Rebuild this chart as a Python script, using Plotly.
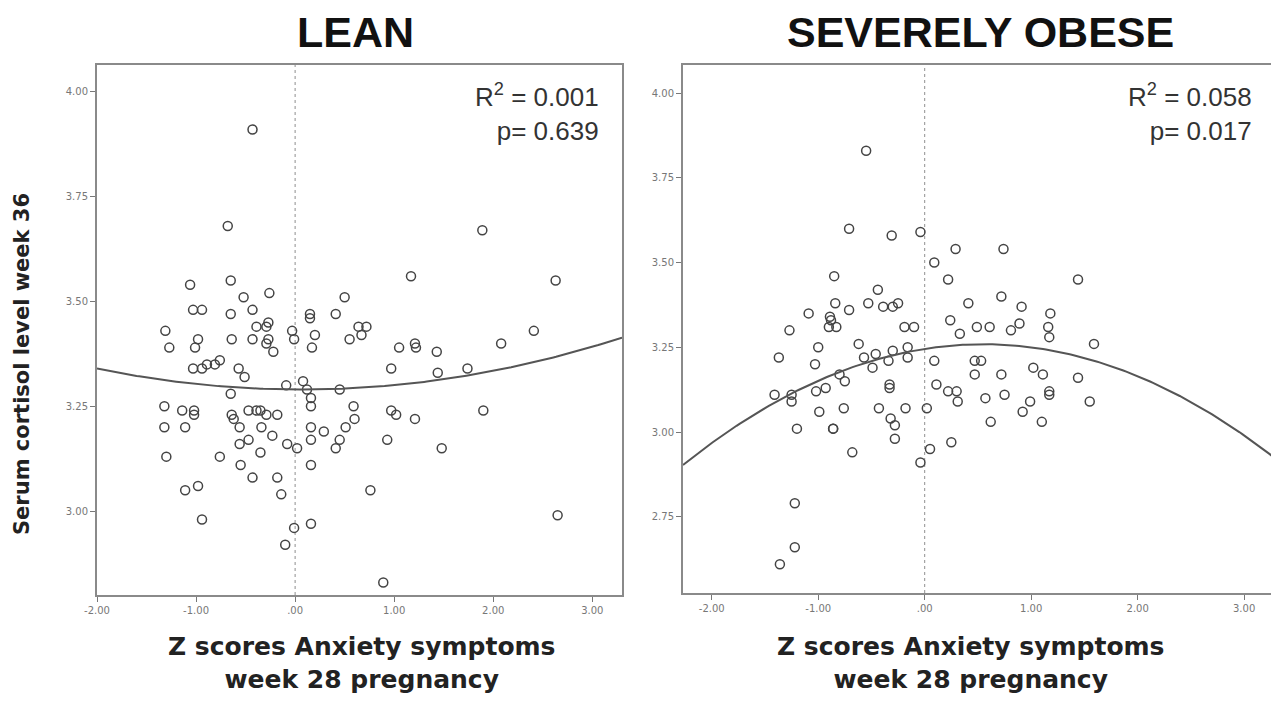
import numpy as np
import plotly.graph_objects as go

# ---------------- data ----------------
lean_x = [-0.43, -0.68, 1.89, -0.65, -1.06, 1.17, 2.63, -0.52, -0.26, 0.50,
          -1.03, -0.94, -0.65, -0.43, 0.15, 0.15, 0.41, -0.27, -0.39, -0.29,
          0.64, 0.72, 2.41, -1.31, -0.98, -0.03, -0.01, 0.20, 0.67, 0.55,
          -0.64, -0.43, -0.27, -1.27, -1.01, -0.29, -0.22, 0.17, 1.05, 1.21,
          1.22, 1.43, 2.08, -1.03, -0.94, -0.89, -0.81, -0.76, -0.57, -0.51,
          0.97, 1.44, 1.74, -0.09, 0.08, 0.12, 0.45, -0.65, 0.16, -1.32,
          -1.14, -1.02, -1.02, -0.64, -0.62, -0.47, -0.39, -0.35, -0.29, -0.18,
          0.16, 0.59, 0.60, 0.97, 1.02, 1.21, 1.90, -1.32, -1.11, -0.56,
          -0.34, -0.23, 0.16, 0.16, 0.29, 0.51, 0.45, 0.41, 0.93, 1.48,
          -0.56, -0.47, -0.08, 0.02, -0.76, -0.35, -1.30, -0.55, 0.16, -0.43,
          -0.18, -1.11, -0.98, 0.76, -0.14, 2.65, -0.94, 0.16, -0.01, -0.10,
          0.89]
lean_y = [3.91, 3.68, 3.67, 3.55, 3.54, 3.56, 3.55, 3.51, 3.52, 3.51,
          3.48, 3.48, 3.47, 3.48, 3.47, 3.46, 3.47, 3.45, 3.44, 3.44,
          3.44, 3.44, 3.43, 3.43, 3.41, 3.43, 3.41, 3.42, 3.42, 3.41,
          3.41, 3.41, 3.41, 3.39, 3.39, 3.40, 3.38, 3.39, 3.39, 3.40,
          3.39, 3.38, 3.40, 3.34, 3.34, 3.35, 3.35, 3.36, 3.34, 3.32,
          3.34, 3.33, 3.34, 3.30, 3.31, 3.29, 3.29, 3.28, 3.27, 3.25,
          3.24, 3.24, 3.23, 3.23, 3.22, 3.24, 3.24, 3.24, 3.23, 3.23,
          3.25, 3.25, 3.22, 3.24, 3.23, 3.22, 3.24, 3.20, 3.20, 3.20,
          3.20, 3.18, 3.20, 3.17, 3.19, 3.20, 3.17, 3.15, 3.17, 3.15,
          3.16, 3.17, 3.16, 3.15, 3.13, 3.14, 3.13, 3.11, 3.11, 3.08,
          3.08, 3.05, 3.06, 3.05, 3.04, 2.99, 2.98, 2.97, 2.96, 2.92,
          2.83]

obese_x = [-0.55, -0.71, -0.31, -0.04, 0.29, 0.74, 0.09, 0.22, 1.44, -0.85,
           -0.44, -0.84, -0.53, -0.39, -0.30, -0.25, -0.71, -1.09, -0.89, -0.88,
           -0.90, -0.83, 0.41, 0.72, 0.91, 1.18, -1.27, -0.19, -0.10, 0.24,
           0.33, 0.49, 0.61, 0.81, 0.89, 1.16, 1.17, 1.59, -0.62, -1.00,
           -1.37, -0.57, -0.46, -0.30, -0.16, -0.16, -0.34, 0.09, -1.03, -0.49,
           0.47, 0.53, 0.47, 1.02, 1.11, 0.72, 1.44, -0.80, -0.75, -1.41,
           -1.25, -1.25, -1.02, -0.93, -0.33, -0.33, 0.11, 0.22, 0.30, 0.31,
           0.75, 0.57, 0.99, 0.92, 1.17, 1.17, 1.55, -0.99, -0.76, -0.43,
           -0.18, 0.02, -1.20, -0.86, -0.86, -0.32, -0.28, 0.62, 1.10, -0.28,
           -0.68, 0.05, 0.25, -0.04, -1.22, -1.22, -1.36]
obese_y = [3.83, 3.60, 3.58, 3.59, 3.54, 3.54, 3.50, 3.45, 3.45, 3.46,
           3.42, 3.38, 3.38, 3.37, 3.37, 3.38, 3.36, 3.35, 3.34, 3.33,
           3.31, 3.31, 3.38, 3.40, 3.37, 3.35, 3.30, 3.31, 3.31, 3.33,
           3.29, 3.31, 3.31, 3.30, 3.32, 3.31, 3.28, 3.26, 3.26, 3.25,
           3.22, 3.22, 3.23, 3.24, 3.25, 3.22, 3.21, 3.21, 3.20, 3.19,
           3.21, 3.21, 3.17, 3.19, 3.17, 3.17, 3.16, 3.17, 3.15, 3.11,
           3.11, 3.09, 3.12, 3.13, 3.14, 3.13, 3.14, 3.12, 3.12, 3.09,
           3.11, 3.10, 3.09, 3.06, 3.12, 3.11, 3.09, 3.06, 3.07, 3.07,
           3.07, 3.07, 3.01, 3.01, 3.01, 3.04, 3.02, 3.03, 3.03, 2.98,
           2.94, 2.95, 2.97, 2.91, 2.79, 2.66, 2.61]

# quadratic fit coefficients: [a, b, c] for a + b*x + c*x^2
lean_fit = [3.290, -0.0014, 0.0118]
obese_fit = [3.2454, 0.0493, -0.0448]

x_ticks = [-2, -1, 0, 1, 2, 3]
x_ticktext = ["-2.00", "-1.00", ".00", "1.00", "2.00", "3.00"]
lean_yticks = [3.00, 3.25, 3.50, 3.75, 4.00]
lean_yticktext = ["3.00", "3.25", "3.50", "3.75", "4.00"]
obese_yticks = [2.75, 3.00, 3.25, 3.50, 3.75, 4.00]
obese_yticktext = ["2.75", "3.00", "3.25", "3.50", "3.75", "4.00"]

lean_xrange = [-2.0, 3.30]
lean_yrange = [2.80, 4.064]
obese_xrange = [-2.27, 3.29]
obese_yrange = [2.525, 4.083]

# ---------------- figure ----------------
OFF = 8  # page body margin
W, H = 1279 - OFF, 702 - OFF
fig = go.Figure()

marker = dict(symbol="circle-open", size=9, color="#444444", line=dict(width=1.5, color="#444444"))

fig.add_trace(go.Scatter(x=lean_x, y=lean_y, mode="markers", marker=marker,
                         xaxis="x", yaxis="y", showlegend=False))
fig.add_trace(go.Scatter(x=obese_x, y=obese_y, mode="markers", marker=marker,
                         xaxis="x2", yaxis="y2", showlegend=False))

def curve(coef, rng):
    xs = np.linspace(rng[0], rng[1], 200)
    return xs, coef[0] + coef[1] * xs + coef[2] * xs ** 2

cx, cy = curve(lean_fit, lean_xrange)
fig.add_trace(go.Scatter(x=cx, y=cy, mode="lines", line=dict(color="#555555", width=2),
                         xaxis="x", yaxis="y", showlegend=False, hoverinfo="skip"))
cx2, cy2 = curve(obese_fit, obese_xrange)
fig.add_trace(go.Scatter(x=cx2, y=cy2, mode="lines", line=dict(color="#555555", width=2),
                         xaxis="x2", yaxis="y2", showlegend=False, hoverinfo="skip"))

tickfont = dict(family="DejaVu Sans", size=10, color="#777777")
axis_common = dict(showgrid=False, zeroline=False, showline=True, linecolor="#8a8a8a",
                   linewidth=2, mirror=True, ticks="outside", ticklen=5, tickwidth=1,
                   tickcolor="#777777", tickfont=tickfont, automargin=False)

def px_x(p):
    return (p - OFF) / W

def px_y(p):
    return 1 - (p - OFF) / H

fig.update_layout(
    width=W, height=H,
    margin=dict(l=0, r=0, t=0, b=0),
    paper_bgcolor="white", plot_bgcolor="white",
    xaxis=dict(domain=[px_x(97), px_x(622)], range=lean_xrange, tickvals=x_ticks,
               ticktext=x_ticktext, anchor="y", **axis_common),
    yaxis=dict(domain=[px_y(595), px_y(65)], range=lean_yrange, tickvals=lean_yticks,
               ticktext=lean_yticktext, anchor="x", **axis_common),
    xaxis2=dict(domain=[px_x(683), px_x(1275)], range=obese_xrange, tickvals=x_ticks,
                ticktext=x_ticktext, anchor="y2", **axis_common),
    yaxis2=dict(domain=[px_y(593), px_y(65)], range=obese_yrange, tickvals=obese_yticks,
                ticktext=obese_yticktext, anchor="x2", **axis_common),
)

# dotted reference lines at x = 0
for xr, yr in (("x", "y domain"), ("x2", "y2 domain")):
    fig.add_shape(type="line", xref=xr, yref=yr, x0=0, x1=0, y0=0, y1=1,
                  line=dict(color="#8f8f8f", width=1, dash="dot"), layer="below")

title_font = dict(family="Liberation Sans, Arial", size=43, color="#111111")
fig.add_annotation(text="<b>LEAN</b>", x=px_x(355), y=px_y(32), xref="paper", yref="paper",
                   showarrow=False, font=title_font, xanchor="center", yanchor="middle",
                   borderpad=0)
fig.add_annotation(text="<b>SEVERELY OBESE</b>", x=px_x(980), y=px_y(32), xref="paper",
                   yref="paper", showarrow=False, font=title_font, xanchor="center",
                   yanchor="middle", borderpad=0)

stat_font = dict(family="Liberation Sans, Arial", size=26, color="#333333")
for txt, xr in (("R<sup>2</sup> = 0.001<br>p= 0.639", 601), ("R<sup>2</sup> = 0.058<br>p= 0.017", 1254)):
    fig.add_annotation(text=txt, x=px_x(xr), y=px_y(113), xref="paper", yref="paper",
                       showarrow=False, font=stat_font, xanchor="right", yanchor="middle",
                       align="right")

label_font = dict(family="DejaVu Sans", size=25, color="#222222")
for xc in (362, 971):
    fig.add_annotation(text="<b>Z scores Anxiety symptoms<br>week 28 pregnancy</b>",
                       x=px_x(xc), y=px_y(663), xref="paper", yref="paper", showarrow=False,
                       font=label_font, xanchor="center", yanchor="middle", align="center")

fig.add_annotation(text="<b>Serum cortisol level week 36</b>", x=px_x(22), y=px_y(364),
                   xref="paper", yref="paper", showarrow=False, textangle=-90,
                   font=dict(family="DejaVu Sans", size=21, color="#222222"),
                   xanchor="center", yanchor="middle")

fig.write_html("out.html")
